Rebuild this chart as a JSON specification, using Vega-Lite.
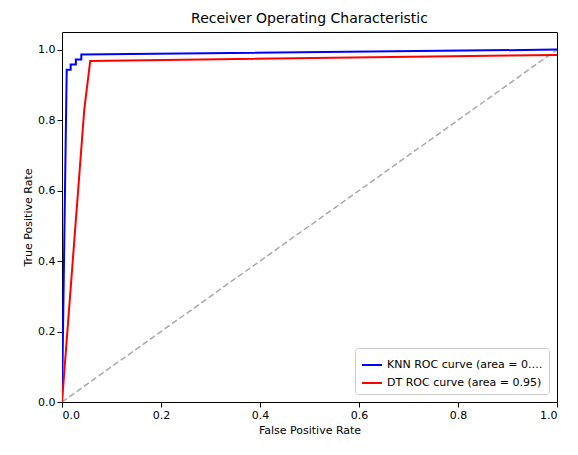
{
"$schema":"https://vega.github.io/schema/vega-lite/v6.json",
"width":495,"height":370,
"padding":{"left":22,"top":12,"right":5,"bottom":5},
"config":{"font":"DejaVu Sans","view":{"stroke":"black","strokeWidth":1},"axis":{"grid":false,"domain":false,"tickColor":"black","labelColor":"black","titleColor":"black","labelFontSize":11,"titleFontSize":11,"titleFontWeight":"normal","labelFont":"DejaVu Sans","titleFont":"DejaVu Sans"},"title":{"fontSize":14,"fontWeight":"normal","font":"DejaVu Sans","offset":6}},
"title":"Receiver Operating Characteristic",
"datasets":{
"roc":[
{"s":"KNN ROC curve (area = 0.99)","o":0,"x":0,"y":0},
{"s":"KNN ROC curve (area = 0.99)","o":1,"x":0.0095,"y":0.943},
{"s":"KNN ROC curve (area = 0.99)","o":2,"x":0.0175,"y":0.943},
{"s":"KNN ROC curve (area = 0.99)","o":3,"x":0.0175,"y":0.958},
{"s":"KNN ROC curve (area = 0.99)","o":4,"x":0.028,"y":0.958},
{"s":"KNN ROC curve (area = 0.99)","o":5,"x":0.028,"y":0.972},
{"s":"KNN ROC curve (area = 0.99)","o":6,"x":0.039,"y":0.972},
{"s":"KNN ROC curve (area = 0.99)","o":7,"x":0.039,"y":0.986},
{"s":"KNN ROC curve (area = 0.99)","o":8,"x":1,"y":1},
{"s":"DT ROC curve (area = 0.95)","o":0,"x":0,"y":0},
{"s":"DT ROC curve (area = 0.95)","o":1,"x":0.045,"y":0.83},
{"s":"DT ROC curve (area = 0.95)","o":2,"x":0.057,"y":0.968},
{"s":"DT ROC curve (area = 0.95)","o":3,"x":1,"y":0.985}
],
"diag":[{"x":0,"y":0},{"x":1,"y":1}]
},
"layer":[
{"data":{"name":"diag"},"mark":{"type":"line","color":"#a9a9a9","strokeDash":[6,3],"strokeWidth":1.5,"clip":true},
"encoding":{"x":{"field":"x","type":"quantitative"},"y":{"field":"y","type":"quantitative"}}},
{"data":{"name":"roc"},"mark":{"type":"line","strokeWidth":2,"clip":true},
"encoding":{
"x":{"field":"x","type":"quantitative","scale":{"domain":[0,1],"nice":false,"zero":false},"axis":{"title":"False Positive Rate","values":[0,0.2,0.4,0.6,0.8,1],"format":".1f"}},
"y":{"field":"y","type":"quantitative","scale":{"domain":[0,1.05],"nice":false},"axis":{"title":"True Positive Rate","values":[0,0.2,0.4,0.6,0.8,1],"format":".1f"}},
"order":{"field":"o"},
"color":{"field":"s","type":"nominal","sort":["KNN ROC curve (area = 0.99)","DT ROC curve (area = 0.95)"],"scale":{"range":["blue","red"]},
"legend":{"title":null,"orient":"bottom-right","symbolType":"stroke","symbolStrokeWidth":2,"symbolSize":400,"labelFontSize":11,"labelFont":"DejaVu Sans","strokeColor":"#cccccc","fillColor":"white","padding":6,"cornerRadius":3,"offset":8}}
}}
]
}
